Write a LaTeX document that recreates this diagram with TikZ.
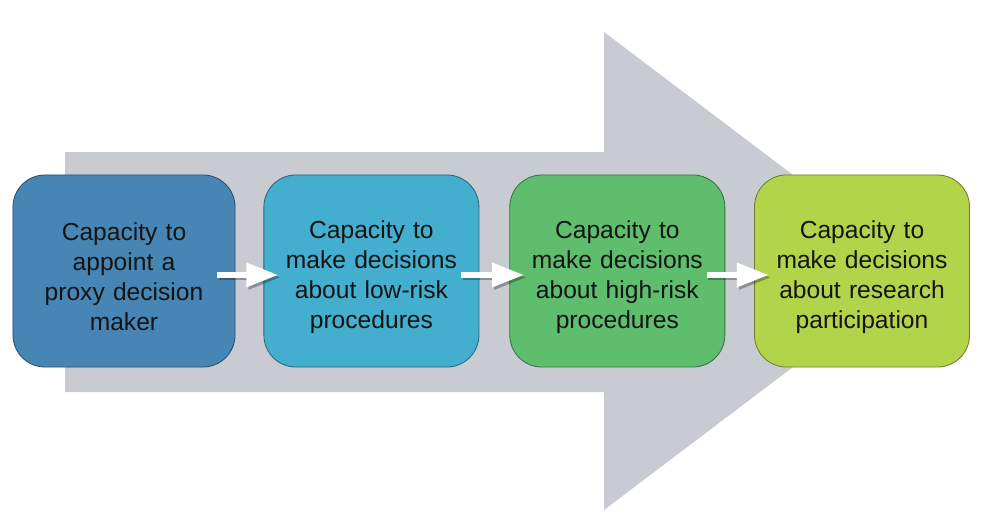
\documentclass[tikz,border=0pt]{standalone}
\usepackage{fontspec}
\setmainfont{Liberation Sans}
\usepackage{xcolor}
\usetikzlibrary{arrows.meta,positioning}
\definecolor{capblue}  {RGB}{71,134,180}
\definecolor{capcyan}  {RGB}{67,174,205}
\definecolor{capgreen} {RGB}{94,190,110}
\definecolor{caplime}  {RGB}{178,212,74}
\definecolor{backgray} {RGB}{200,204,210}
\tikzset{
  capbox/.style={draw=#1!60!black, fill=#1, rounded corners=0.8cm,
                 line width=0.6pt, minimum width=5.375cm, minimum height=4.8cm,
                 text width=5cm, align=center, inner sep=0pt, text=black!92,
                 font=\fontsize{17.5}{21.3}\selectfont,
                 execute at begin node={\rule{0pt}{0.75cm}}},
  warr/.style  ={-{Triangle[length=0.8cm,width=0.58cm]}, line width=4.2pt, white},
  sharr/.style ={-{Triangle[length=0.8cm,width=0.58cm]}, line width=4.2pt,
                 black, opacity=0.3},
}
\begin{document}
\begin{tikzpicture}[x=0.025cm,y=-0.025cm]
  \useasboundingbox (0,0) rectangle (1000,527);
  %% big background arrow
  \fill[backgray] (65,152) -- (604,152) -- (604,32) -- (920,271)
                  -- (604,510) -- (604,392) -- (65,392) -- cycle;
  %% stages
  \node[capbox=capblue, minimum width=5.55cm] (b1) at (124,271)
       {Capacity to\\appoint a\\proxy decision\\maker};
  \node[capbox=capcyan, right=0.7cm of b1] (b2)
       {Capacity to\\make decisions\\about low-risk\\procedures};
  \node[capbox=capgreen, right=0.75cm of b2] (b3)
       {Capacity to\\make decisions\\about high-risk\\procedures};
  \node[capbox=caplime, right=0.72cm of b3] (b4)
       {Capacity to\\make decisions\\about research\\participation};
  %% white arrows between stages
  \foreach \a/\b in {b1/b2,b2/b3,b3/b4}{
    \draw[sharr] ([xshift=-0.42cm,yshift=-0.16cm]\a.east) -- ([xshift=0.42cm,yshift=-0.16cm]\b.west);
    \draw[warr] ([xshift=-0.45cm,yshift=-0.1cm]\a.east) -- ([xshift=0.37cm,yshift=-0.1cm]\b.west);
  }
\end{tikzpicture}
\end{document}
